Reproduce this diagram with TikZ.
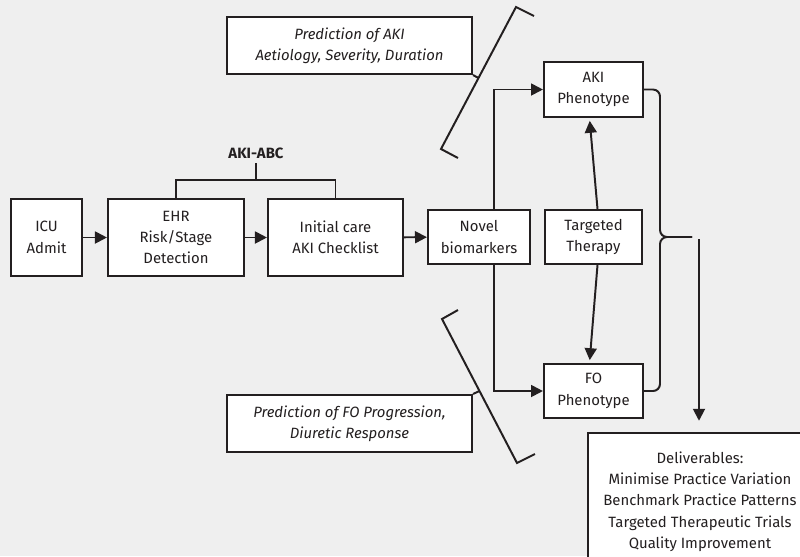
\documentclass[tikz,border=0pt]{standalone}
\usepackage{fontspec}
\setmainfont{Fira Sans}
\usetikzlibrary{arrows.meta,calc}
\definecolor{bgcol}{HTML}{EFEFEF}
\definecolor{ink}{HTML}{231F20}
\tikzset{
  box/.style={draw=ink, line width=1.5pt, fill=white, align=center, inner sep=0pt,
              text=ink, font=\fontsize{10.6}{15.2}\selectfont},
  predbox/.style={box, font=\fontsize{10.6}{15.2}\selectfont\itshape},
  arr/.style={draw=ink, line width=1.4pt, -{Triangle[length=8.5pt,width=8.5pt]}},
  conn/.style={draw=ink, line width=1.4pt},
}
\begin{document}
\begin{tikzpicture}
    \useasboundingbox[fill=bgcol] (0,0) rectangle (20,-13.9);
    % main chain
    \node[box, minimum width=1.775cm, minimum height=1.925cm] (icu) at (1.1625,-5.9375) {ICU\\Admit};
    \node[box, minimum width=3.4cm, minimum height=1.925cm] (ehr) at (4.4,-5.9375) {EHR\\Risk/Stage\\Detection};
    \node[box, minimum width=3.375cm, minimum height=1.925cm] (init) at (8.3875,-5.9375) {Initial care\\AKI Checklist};
    \node[text=ink, font=\fontsize{10.6}{15}\selectfont\bfseries] (abc) at (6.4,-3.825) {AKI-ABC};
    \coordinate (bar) at (6.4,-4.5);
    \draw[conn] (ehr.north) |- (bar) -| (init.north);
    \draw[conn] (abc) -- (bar);
    \draw[arr] (icu) -- (ehr);
    \draw[arr] (ehr) -- (init);
    \node[box, minimum width=2.55cm, minimum height=1.35cm] (novel) at (11.975,-5.925) {Novel\\biomarkers};
    \draw[arr] (init) -- (novel);
    % phenotypes
    \node[box, minimum width=2.425cm, minimum height=1.35cm] (therapy) at (14.8375,-5.925) {Targeted\\Therapy};
    \node[box, minimum width=2.475cm, minimum height=1.375cm] (akiph) at (14.8375,-2.2375) {AKI\\Phenotype};
    \node[box, minimum width=2.475cm, minimum height=1.35cm] (foph) at (14.8375,-9.775) {FO\\Phenotype};
    \draw[arr] ([xshift=0.375cm]novel.north) |- (akiph.west);
    \draw[arr] ([xshift=0.375cm]novel.south) |- (foph.west);
    \draw[arr, shorten >=2pt] ([xshift=0.1cm]therapy.north) -- ([xshift=-0.1cm]akiph.south);
    \draw[arr, shorten >=2pt] ([xshift=0.1cm]therapy.south) -- ([xshift=-0.1cm]foph.north);
    % brace and deliverables
    \coordinate (brc) at (16.5,-5.925);
    \coordinate (brcend) at (17.3,-5.925);
    \draw[conn, rounded corners=5pt] (akiph.east) -| (brc) -- (brcend);
    \draw[conn, rounded corners=5pt] (foph.east) -| (brc) -- (brcend);
    \node[box, minimum width=5.6cm, minimum height=3.425cm] (deliv) at (17.5,-12.5375)
        {Deliverables:\\Minimise Practice Variation\\Benchmark Practice Patterns\\Targeted Therapeutic Trials\\Quality Improvement};
    \coordinate (down) at (17.475,-5.975);
    \draw[arr, shorten >=0.28cm] (down) -- (down |- deliv.north);
    % predictions
    \node[predbox, minimum width=6.125cm, minimum height=1.425cm] (predaki) at (8.7375,-1.1375)
        {Prediction of AKI\\Aetiology, Severity, Duration};
    \node[predbox, minimum width=6.125cm, minimum height=1.425cm] (predfo) at (8.7375,-10.5875)
        {Prediction of FO Progression,\\Diuretic Response};
    \draw[conn] (13.35,-0.4) -- (12.9,-0.175) -- (11.025,-3.725) -- (11.45,-3.95);
    \coordinate (akibr) at (11.9625,-1.95);
    \draw[conn] (predaki.south east) -- (akibr);
    \draw[conn] (11.45,-7.75) -- (11.05,-7.975) -- (12.925,-11.575) -- (13.375,-11.35);
    \coordinate (fobr) at (11.9875,-9.775);
    \draw[conn] (predfo.north east) -- (fobr);
\end{tikzpicture}
\end{document}
